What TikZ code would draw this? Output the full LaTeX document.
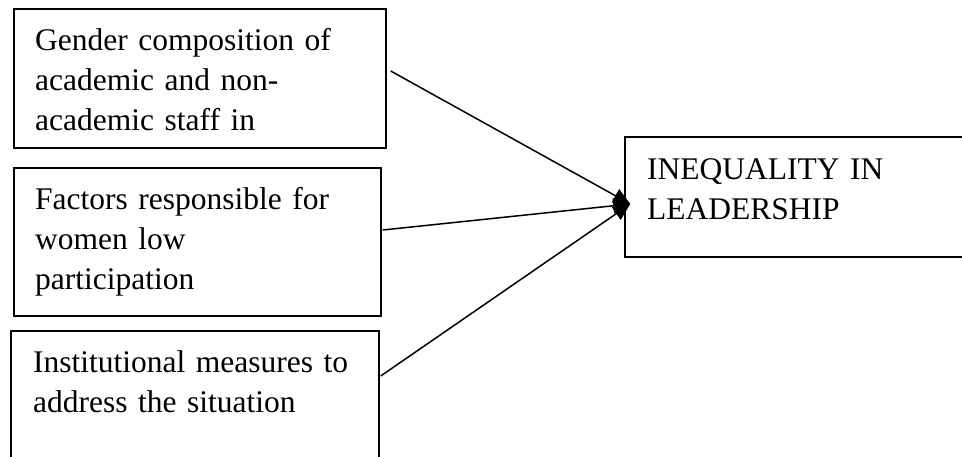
\documentclass[tikz,border=0pt]{standalone}
\usepackage{fontspec}
\setmainfont{Liberation Serif}
\usetikzlibrary{arrows.meta}

\begin{document}
\begin{tikzpicture}[x=1pt,y=1pt,
    box/.style={draw,line width=1.4pt,inner sep=0pt},
    txt/.style={anchor=base west,inner sep=0pt,text width=#1,align=left,
        font=\fontsize{31.5}{40}\selectfont},
    link/.style={line width=1.5pt,-{Triangle[length=17pt,width=15pt]}}]
\useasboundingbox (0,0) rectangle (962,456);
\clip (0,0) rectangle (962,456);

% frames
\node[box,minimum width=372,minimum height=139] (gender)     at (200,377.5) {};
\node[box,minimum width=367,minimum height=148] (factors)    at (197.5,214) {};
\node[box,minimum width=368,minimum height=140] (measures)   at (195,55) {};
\node[box,minimum width=380,minimum height=120] (inequality) at (815,259) {};

% texts
\node[txt=340pt] (genderText)     at (35,405) {Gender composition of\\academic and non-\\academic staff in};
\node[txt=340pt] (factorsText)    at (35,246) {Factors responsible for\\women low\\participation};
\node[txt=340pt] (measuresText)   at (33,84)  {Institutional measures to\\address the situation};
\node[txt=300pt] (inequalityText) at (647,276) {INEQUALITY IN\\LEADERSHIP};

\coordinate (tip) at ([shift={(6,-7)}]inequality.west);

\foreach \src/\dx/\dy in {gender/4/7.5, factors/1/12, measures/1/25}
    \draw[link] ([shift={(\dx,\dy)}]\src.east) -- (tip);

\end{tikzpicture}
\end{document}
